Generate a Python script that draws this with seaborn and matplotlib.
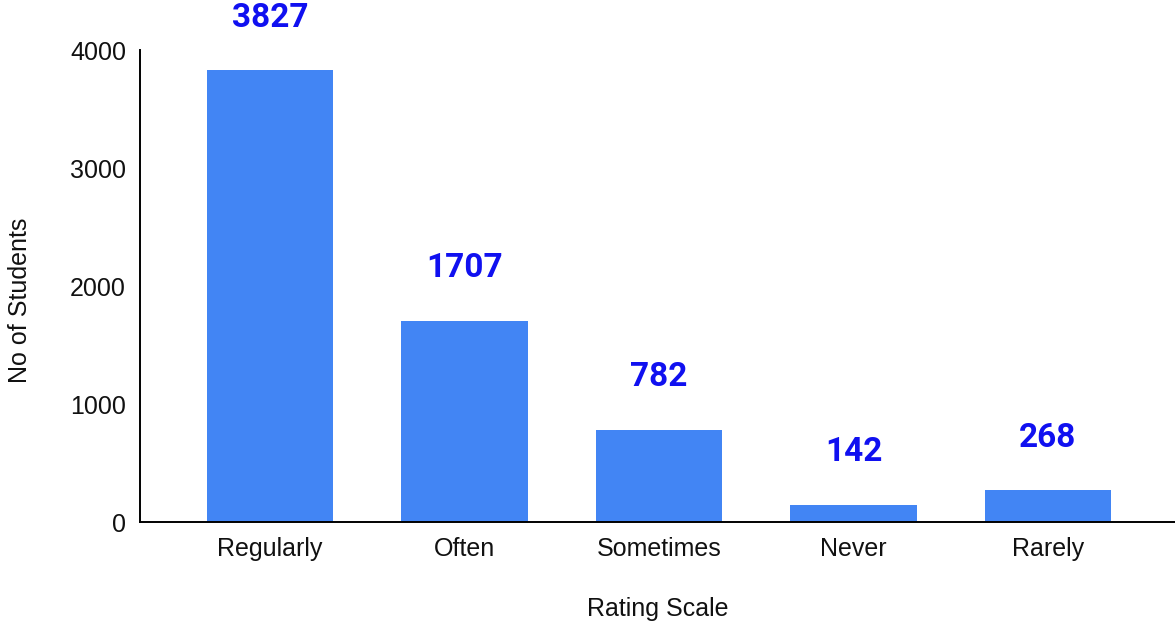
import numpy as np
import pandas as pd
import matplotlib
matplotlib.use("Agg")
import matplotlib.pyplot as plt
import seaborn as sns

categories = ["Regularly", "Often", "Sometimes", "Never", "Rarely"]
students = [3827, 1707, 782, 142, 268]
y_ticks = [0, 1000, 2000, 3000, 4000]

df = pd.DataFrame({"rating": categories, "students": students})

sns.set_style("white")
plt.rcParams["font.family"] = ["Liberation Sans", "DejaVu Sans"]

fig = plt.figure(figsize=(11.75, 6.25), dpi=100)
ax = fig.add_axes([0.1191, 0.1648, 0.8809, 0.7552])

sns.barplot(data=df, x="rating", y="students", color="#4285F4", width=0.65,
            saturation=1, linewidth=0, ax=ax)

ax.set_xlim(-0.668, 4.653)
ax.set_ylim(0, 4000)
ax.set_yticks(y_ticks)
ax.tick_params(axis="both", length=0, labelsize=18, colors="#111111")
ax.tick_params(axis="x", pad=11)
ax.tick_params(axis="y", pad=10)

for i, v in enumerate(students):
    ax.annotate(str(v), xy=(i, v), xytext=(0, 38), textcoords="offset points",
                ha="center", va="center", fontsize=24, fontweight="bold",
                color="#1010F0", family=["Roboto", "DejaVu Sans"],
                annotation_clip=False)

sns.despine(ax=ax)
for side in ["left", "bottom"]:
    ax.spines[side].set_color("black")
    ax.spines[side].set_linewidth(1.4)

ax.set_xlabel("Rating Scale", fontsize=18, labelpad=26, color="#111111")
ax.set_ylabel("No of Students", fontsize=18, color="#111111")
ax.yaxis.set_label_coords(-0.104, 0.47)

fig.savefig("out.png", dpi=100)
